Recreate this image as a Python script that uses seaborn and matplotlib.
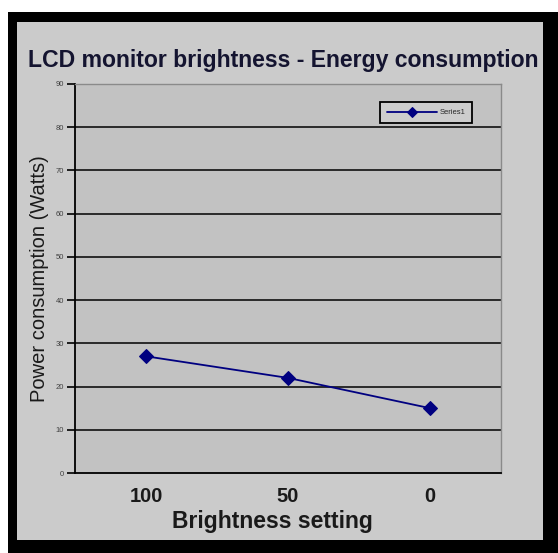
import matplotlib
matplotlib.use("Agg")
import matplotlib.pyplot as plt
from matplotlib.patches import Rectangle
import seaborn as sns
import pandas as pd

# Data
categories = ["100", "50", "0"]
power_watts = [27, 22, 15]
series_name = "Series1"
y_ticks = [0, 10, 20, 30, 40, 50, 60, 70, 80, 90]

title_text = "LCD monitor brightness - Energy consumption"
x_label = "Brightness setting"
y_label = "Power consumption (Watts)"

sns.set_style("white")
plt.rcParams['font.family'] = ['Liberation Sans', 'DejaVu Sans']

W, H = 558, 553
fig = plt.figure(figsize=(W / 100, H / 100), dpi=100)
fig.patch.set_facecolor("white")

# black frame and gray chart area (pixel coords converted to fractions)
fig.patches.append(Rectangle((8 / W, 0), 1 - 8 / W, (H - 12) / H,
                             transform=fig.transFigure, facecolor="black",
                             edgecolor="none", zorder=-20))
fig.patches.append(Rectangle((17 / W, 13 / H), 526 / W, 518 / H,
                             transform=fig.transFigure, facecolor="#cbcbcb",
                             edgecolor="none", zorder=-10))

ax = fig.add_axes([75 / W, (H - 473) / H, (501 - 75) / W, (473 - 84) / H])
ax.set_facecolor("#c2c2c2")

df = pd.DataFrame({"setting": categories, "power": power_watts})
sns.lineplot(data=df, x="setting", y="power", ax=ax, color="#000080",
             marker="D", markersize=7, markeredgecolor="#000080",
             linewidth=1.3, label=series_name, sort=False)

ax.set_xlim(-0.5, len(categories) - 0.5)
ax.set_ylim(0, 90)
ax.set_yticks(y_ticks)
ax.set_yticklabels([str(v) for v in y_ticks], fontsize=5.5, color="#404040")
ax.set_xticks(range(len(categories)))
ax.set_xticklabels(categories, fontsize=14.5, fontweight="bold", color="#1a1a1a")
ax.set_xticks([0.5, 1.5], minor=True)
ax.tick_params(axis="x", which="major", length=0, pad=10)
ax.tick_params(axis="x", which="minor", length=4, width=1.2, color="black",
               direction="out")
ax.tick_params(axis="y", which="major", length=6, width=1.2, color="black",
               direction="out", pad=2, left=True)

for v in y_ticks[1:-1]:
    ax.axhline(v, color="black", linewidth=1.1, zorder=1)

for side in ["top", "right"]:
    ax.spines[side].set_visible(True)
    ax.spines[side].set_color("#8a8a8a")
    ax.spines[side].set_linewidth(1.0)
for side in ["left", "bottom"]:
    ax.spines[side].set_visible(True)
    ax.spines[side].set_color("black")
    ax.spines[side].set_linewidth(1.3)

ax.set_xlabel(x_label, fontsize=16.5, fontweight="bold", color="#1a1a1a")
ax.xaxis.set_label_coords((272 - 75) / (501 - 75), -(510 - 473) / (473 - 84))
ax.set_ylabel(y_label, fontsize=14.5, color="#1a1a1a", labelpad=5)

fig.text(283.5 / W, 1 - 60 / H, title_text, ha="center", va="center",
         fontsize=16.6, fontweight="bold", color="#141430")

leg = ax.legend(loc="upper left", bbox_to_anchor=((380 - 75) / (501 - 75), 1 - (102 - 84) / (473 - 84)),
                fontsize=5.5, frameon=True, fancybox=False, handlelength=6.5,
                borderpad=0.9, handletextpad=0.4, borderaxespad=0, markerscale=0.8)
leg.get_frame().set_edgecolor("black")
leg.get_frame().set_linewidth(1.3)
leg.get_frame().set_facecolor("#cdcdcd")
leg.get_frame().set_alpha(1)

fig.savefig("out.png", dpi=100)
